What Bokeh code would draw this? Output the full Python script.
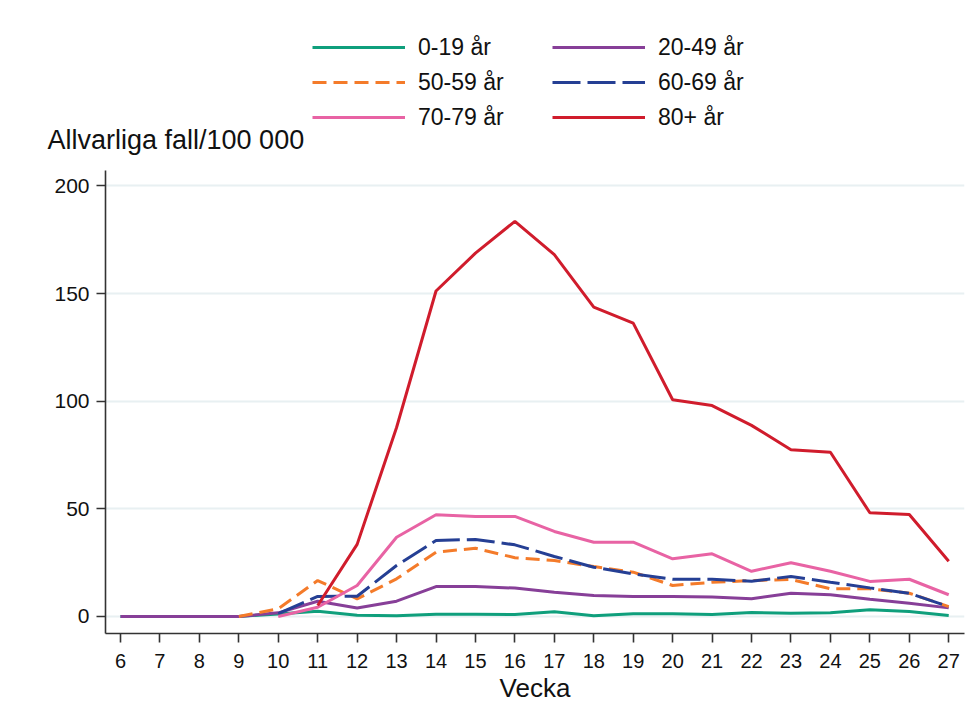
import numpy as np
from bokeh.plotting import figure
from bokeh.layouts import column
from bokeh.models import Legend, LegendItem, FixedTicker, Label, Range1d
from bokeh.embed import file_html
from bokeh.resources import INLINE

weeks = list(range(6, 28))
tick_labels = [str(w) for w in weeks]
y_ticks = [0, 50, 100, 150, 200]

series_names = ["0-19 år", "20-49 år", "50-59 år", "60-69 år", "70-79 år", "80+ år"]
age_0_19 = [0, 0, 0, 0, 1.2, 2.4, 0.6, 0.4, 1.0, 1.0, 0.9, 2.2, 0.4, 1.3, 1.3, 0.9, 1.9, 1.5, 1.7, 3.1, 2.3, 0.5]
age_20_49 = [0, 0, 0, 0, 1.7, 7.1, 3.9, 7.1, 13.9, 13.9, 13.2, 11.3, 9.8, 9.3, 9.3, 9.0, 8.2, 10.8, 10.1, 8.0, 6.2, 4.0]
age_50_59 = [None, None, None, 0, 3.6, 16.7, 8.2, 17.5, 29.9, 31.7, 27.3, 26.0, 23.2, 20.6, 14.4, 15.9, 16.7, 17.2, 12.9, 12.9, 10.8, 4.6]
age_60_69 = [None, None, None, None, 1.3, 9.3, 9.4, 23.7, 35.3, 35.8, 33.3, 27.9, 22.9, 19.8, 17.3, 17.3, 16.4, 18.6, 15.9, 13.3, 10.8, 4.6]
age_70_79 = [None, None, None, None, 0.0, 4.3, 14.4, 36.8, 47.3, 46.5, 46.5, 39.5, 34.5, 34.5, 26.8, 29.1, 21.0, 25.0, 21.0, 16.3, 17.3, 10.1]
age_80p = [None, None, None, None, None, 5.1, 33.5, 87.8, 151.2, 168.8, 183.6, 168.1, 143.7, 136.3, 100.7, 98.0, 88.8, 77.5, 76.3, 48.2, 47.4, 25.7]

colors = ["#0f9f7c", "#873f98", "#f47b2a", "#253f94", "#e863a4", "#d01c2c"]
dashes = ["solid", "solid", "14 7", "28 7", "solid", "solid"]

FONT = "Liberation Sans"
W = 968
TOP_H = 170
MAIN_H = 538

# ---------- header figure: y-axis title and legend ----------
top = figure(width=W, height=TOP_H, output_backend="svg", toolbar_location=None,
             x_range=Range1d(0, W), y_range=Range1d(TOP_H, 0),
             min_border_left=0, min_border_right=0, min_border_top=0, min_border_bottom=0)
top.frame_align = False
top.axis.visible = False
top.grid.visible = False
top.outline_line_color = None
top.border_fill_color = "white"
top.background_fill_color = "white"

top.add_layout(Label(x=47, y=139, text="Allvarliga fall/100 000",
                     text_font=FONT, text_font_size="27px", text_color="#111111",
                     text_align="left", text_baseline="middle"))

key_renderers = []
for c, d in zip(colors, dashes):
    key_renderers.append(top.line(x=[np.nan], y=[np.nan], line_color=c, line_width=3, line_dash=d))
# legend laid out column-major with 2 columns: reorder so rows read left-to-right
order = [0, 2, 4, 1, 3, 5]
items = [LegendItem(label=series_names[i], renderers=[key_renderers[i]]) for i in order]
legend = Legend(items=items, ncols=2, location=(312, TOP_H - 131),
                glyph_width=93, glyph_height=28, label_height=28, label_width=127,
                label_standoff=13, spacing=7, padding=0, margin=0,
                border_line_color=None, background_fill_alpha=0,
                label_text_font=FONT, label_text_font_size="23px", label_text_color="#111111")
top.add_layout(legend, "center")

# ---------- main chart ----------
x0, x1 = 5.62, 27.4
y0, y1 = -7.9, 207.2

p = figure(width=W, height=MAIN_H, output_backend="svg", toolbar_location=None,
           x_range=(x0, x1), y_range=(y0, y1),
           min_border_left=105, min_border_right=4, min_border_top=0, min_border_bottom=75)
p.frame_align = False
p.outline_line_color = None
p.background_fill_color = "white"
p.border_fill_color = "white"

p.xgrid.grid_line_color = None
p.ygrid.grid_line_color = "#e8f0f2"
p.ygrid.grid_line_width = 2
p.ygrid.ticker = FixedTicker(ticks=y_ticks)

p.xaxis.ticker = FixedTicker(ticks=weeks)
p.xaxis.major_label_overrides = {w: l for w, l in zip(weeks, tick_labels)}
p.yaxis.ticker = FixedTicker(ticks=y_ticks)
for ax in (p.xaxis[0], p.yaxis[0]):
    ax.axis_line_color = "#333333"
    ax.axis_line_width = 1.6
    ax.major_tick_line_color = "#333333"
    ax.major_tick_line_width = 1.6
    ax.major_tick_out = 9
    ax.major_tick_in = 0
    ax.minor_tick_line_color = None
    ax.major_label_text_font = FONT
    ax.major_label_text_color = "#111111"
p.xaxis.major_label_text_font_size = "20px"
p.yaxis.major_label_text_font_size = "21px"
p.xaxis.major_label_standoff = 11
p.yaxis.major_label_standoff = 7
p.xaxis.axis_label = "Vecka"
p.xaxis.axis_label_text_font = FONT
p.xaxis.axis_label_text_font_size = "26px"
p.xaxis.axis_label_text_font_style = "normal"
p.xaxis.axis_label_text_color = "#111111"
p.xaxis.axis_label_standoff = 2

series = [age_0_19, age_20_49, age_50_59, age_60_69, age_70_79, age_80p]
for vals, c, d in zip(series, colors, dashes):
    arr = np.array([np.nan if v is None else v for v in vals], dtype=float)
    p.line(weeks, arr, line_color=c, line_width=3, line_dash=d)

layout = column(top, p, spacing=0)
open("out.html", "w").write(file_html(layout, INLINE))
